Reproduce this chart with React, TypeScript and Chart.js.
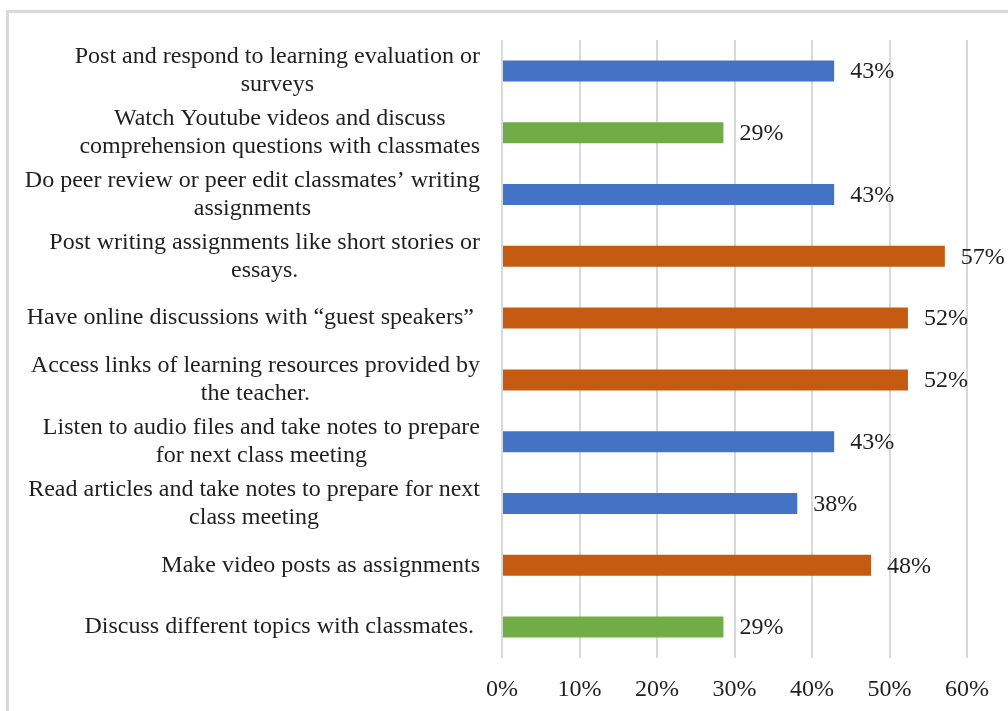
import React, { useEffect, useRef } from "react";
import { Chart, registerables } from "chart.js";

Chart.register(...registerables);

const categories: string[][] = [
  ["Post and respond to learning evaluation or", "surveys"],
  ["Watch Youtube videos and discuss", "comprehension questions with classmates"],
  ["Do peer review or peer edit classmates’ writing", "assignments"],
  ["Post writing assignments like short stories or", "essays."],
  ["Have online discussions with “guest speakers” "],
  ["Access links of learning resources provided by", "the teacher."],
  ["Listen to audio files and take notes to prepare", "for next class meeting"],
  ["Read articles and take notes to prepare for next", "class meeting"],
  ["Make video posts as assignments"],
  ["Discuss different topics with classmates. "],
];

const values: number[] = [42.86, 28.57, 42.86, 57.14, 52.38, 52.38, 42.86, 38.1, 47.62, 28.57];
const valueLabels: string[] = ["43%", "29%", "43%", "57%", "52%", "52%", "43%", "38%", "48%", "29%"];
const barColors: string[] = [
  "#4472C4", "#70AD47", "#4472C4", "#C55A11", "#C55A11",
  "#C55A11", "#4472C4", "#4472C4", "#C55A11", "#70AD47",
];
const xTicks: number[] = [0, 10, 20, 30, 40, 50, 60];

const FONT = "'Liberation Serif', 'Times New Roman', serif";
const TEXT = "#1f1f1f";

export default function App() {
  const ref = useRef<HTMLCanvasElement | null>(null);

  useEffect(() => {
    if (!ref.current) return;

    const labelPlugin = {
      id: "catLabels",
      afterDraw(chart: any) {
        const ctx = chart.ctx;
        const yScale = chart.scales.y;
        const area = chart.chartArea;
        ctx.save();
        ctx.font = `24px ${FONT}`;
        ctx.fillStyle = TEXT;
        ctx.textAlign = "center";
        ctx.textBaseline = "middle";
        const lineH = 28;
        categories.forEach((lines, i) => {
          const y = yScale.getPixelForValue(i);
          const maxW = Math.max(...lines.map((l) => ctx.measureText(l).width));
          const cx = area.left - 22 - maxW / 2;
          lines.forEach((l, j) => {
            ctx.fillText(l, cx, y + (j - (lines.length - 1) / 2) * lineH);
          });
        });
        // value labels
        const meta = chart.getDatasetMeta(0);
        ctx.textAlign = "left";
        meta.data.forEach((bar: any, i: number) => {
          ctx.fillText(valueLabels[i], bar.x + 16, bar.y + 1);
        });
        ctx.restore();
      },
    };

    const chart = new Chart(ref.current, {
      type: "bar",
      data: {
        labels: categories.map((c) => c.join(" ")),
        datasets: [
          {
            data: values,
            backgroundColor: barColors,
            borderWidth: 0,
            barPercentage: 0.34,
            categoryPercentage: 1,
          },
        ],
      },
      options: {
        indexAxis: "y",
        responsive: false,
        animation: false,
        layout: { padding: { left: 0, top: 40, right: 41, bottom: 0 } },
        plugins: {
          legend: { display: false },
          tooltip: { enabled: false },
        },
        scales: {
          x: {
            min: 0,
            max: 60,
            afterBuildTicks: (scale: any) => {
              scale.ticks = xTicks.map((v) => ({ value: v }));
            },
            afterFit: (scale: any) => {
              scale.height = 53;
            },
            grid: { color: "#d9d9d9", lineWidth: 2, drawTicks: false },
            border: { display: false },
            ticks: {
              padding: 17,
              color: TEXT,
              font: { family: FONT, size: 24 },
              callback: (v: any) => `${v}%`,
            },
          },
          y: {
            afterFit: (scale: any) => {
              scale.width = 502;
            },
            grid: { display: false },
            border: { display: false },
            ticks: { display: false },
          },
        },
      },
      plugins: [labelPlugin],
    });

    return () => chart.destroy();
  }, []);

  return (
    <div
      style={{
        position: "fixed",
        left: 0,
        top: 0,
        width: 1008,
        height: 711,
        overflow: "hidden",
        background: "#fff",
      }}
    >
      <div
        style={{
          position: "absolute",
          left: 6,
          top: 10,
          width: 1100,
          height: 800,
          border: "3px solid #d9d9d9",
        }}
      />
      <canvas
        ref={ref}
        width={1008}
        height={711}
        style={{ position: "absolute", left: 0, top: 0, width: 1008, height: 711 }}
      />
    </div>
  );
}
